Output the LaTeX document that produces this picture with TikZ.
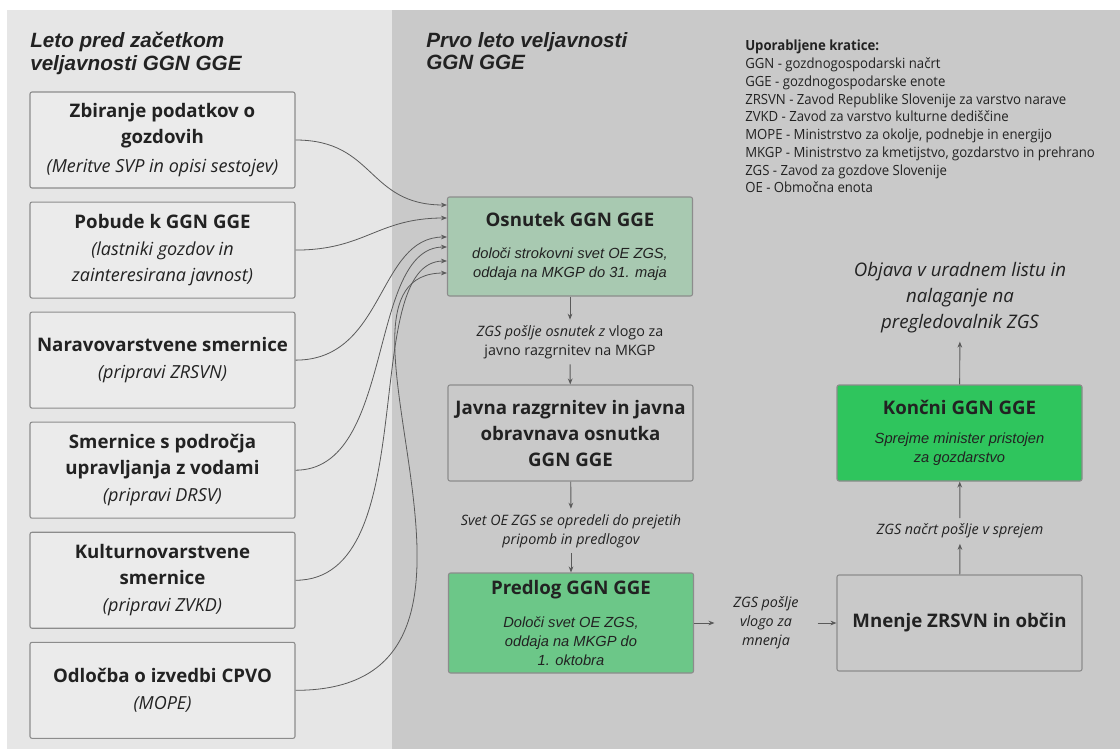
\documentclass[tikz,border=0pt]{standalone}
\usepackage{fontspec}
\setmainfont{Open Sans}
\newfontfamily\arialfont{Liberation Sans}
\newfontfamily\legendfont[FakeStretch=0.94]{Open Sans}
\usetikzlibrary{arrows.meta, positioning, calc}
\usepackage{xcolor}

\definecolor{panelleft}{HTML}{E6E6E6}
\definecolor{panelright}{HTML}{C9C9C9}
\definecolor{srcfill}{HTML}{EBEBEB}
\definecolor{boxline}{HTML}{8C8C8C}
\definecolor{draftfill}{HTML}{A8C9B1}
\definecolor{proposalfill}{HTML}{6CC788}
\definecolor{finalfill}{HTML}{2FC55D}
\definecolor{textdark}{HTML}{222222}
\definecolor{linkgray}{HTML}{5A5A5A}

\newcommand{\srcnote}[1]{{\mdseries\itshape\fontsize{13.5}{19.5}\selectfont #1}}
\newcommand{\subnote}[1]{{\arialfont\mdseries\itshape\fontsize{11}{15}\selectfont #1}}

\begin{document}
\begin{tikzpicture}[
    x=0.75pt, y=-0.75pt,
    node distance=9.75pt,
    >={Stealth[length=4.5pt,width=3.5pt]},
    base/.style={draw=boxline, rounded corners=1.5pt, line width=0.8pt, align=center, text=textdark, inner sep=3pt},
    srcbox/.style={base, fill=srcfill, minimum width=198.75pt, minimum height=72pt, font=\fontsize{14}{19.5}\selectfont\bfseries},
    stagebox/.style={base, minimum width=183.75pt, minimum height=72pt, font=\fontsize{14}{19.5}\selectfont\bfseries},
    note/.style={align=center, text=textdark, inner sep=4pt, font=\fontsize{10.75}{14.25}\selectfont\itshape},
    title/.style={anchor=north west, align=left, inner sep=0pt, text=textdark, font=\arialfont\fontsize{15.5}{17}\selectfont\bfseries\itshape},
    link/.style={->, line width=0.7pt, linkgray},
    feed/.style={->, line width=0.6pt, linkgray}
  ]
    \useasboundingbox (0,0) rectangle (1120,749);
    \fill[white] (0,0) rectangle (1120,749);
    % two periods
    \fill[panelleft] (7,10) rectangle (392,749);
    \fill[panelright] (392,10) rectangle (1120,749);

    \node[title] (leftttl) at (30,32) {Leto pred začetkom\\veljavnosti GGN GGE};
    \node[title] (rightttl) at (426,32) {Prvo leto veljavnosti\\GGN GGE};

    \node[anchor=north west, align=left, inner sep=0pt, text=textdark, font=\legendfont\fontsize{10.5}{13.3}\selectfont] (legend) at (745,40)
    {\textbf{Uporabljene kratice:}\\
     GGN - gozdnogospodarski načrt\\
     GGE - gozdnogospodarske enote\\
     ZRSVN - Zavod Republike Slovenije za varstvo narave\\
     ZVKD - Zavod za varstvo kulturne dediščine\\
     MOPE - Ministrstvo za okolje, podnebje in energijo\\
     MKGP - Ministrstvo za kmetijstvo, gozdarstvo in prehrano\\
     ZGS - Zavod za gozdove Slovenije\\
     OE - Območna enota};

    % inputs from the year before
    \node[srcbox] (gather) at (162.5,140) {Zbiranje podatkov o\\gozdovih\\[2pt]\srcnote{(Meritve SVP in opisi sestojev)}};
    \node[srcbox, below=of gather] (initiatives) {Pobude k GGN GGE\\[1pt]\srcnote{(lastniki gozdov in}\\\srcnote{zainteresirana javnost)}};
    \node[srcbox, below=of initiatives] (nature) {Naravovarstvene smernice\\[1pt]\srcnote{(pripravi ZRSVN)}};
    \node[srcbox, below=of nature] (water) {Smernice s področja\\upravljanja z vodami\\[1pt]\srcnote{(pripravi DRSV)}};
    \node[srcbox, below=of water] (culture) {Kulturnovarstvene\\smernice\\[1pt]\srcnote{(pripravi ZVKD)}};
    \node[srcbox, below=of culture] (cpvo) {Odločba o izvedbi CPVO\\[1pt]\srcnote{(MOPE)}};

    % first year
    \node[stagebox, fill=draftfill, minimum height=74.25pt] (draft) at (570,246.5)
    {Osnutek GGN GGE\\[4pt]\subnote{določi strokovni svet OE ZGS,}\\[-5pt]\subnote{oddaja na MKGP do 31. maja}};
    \node[stagebox, fill=panelright] (public) at (570.5,433)
    {Javna razgrnitev in javna\\obravnava osnutka\\GGN GGE};
    \node[stagebox, fill=proposalfill, minimum height=75pt] (proposal) at (571,623)
    {Predlog GGN GGE\\[5pt]\subnote{Določi svet OE ZGS,}\\[-5pt]\subnote{oddaja na MKGP do}\\[-5pt]\subnote{1. oktobra}};
    \node[stagebox, fill=panelright] (opinions) at (959.5,623) {Mnenje ZRSVN in občin};
    \node[stagebox, fill=finalfill] (final) at (959.5,433)
    {Končni GGN GGE\\[2pt]\subnote{Sprejme minister pristojen}\\[-5.5pt]\subnote{za gozdarstvo}};

    \node[note] (tosend) at (570,342) {ZGS pošlje osnutek z \upshape vlogo za\\\upshape javno razgrnitev na MKGP};
    \node[note] (decide) at (571,531) {Svet OE ZGS se opredeli do prejetih\\pripomb in predlogov};
    \node[note, inner xsep=14pt] (askopinion) at (766,623) {ZGS pošlje\\vlogo za\\mnenja};
    \node[note] (submit) at (960,531) {ZGS načrt pošlje v sprejem};
    \node[note, inner sep=6pt, font=\fontsize{14}{19.5}\selectfont\itshape] (publish) at (960,298)
    {Objava v uradnem listu in\\nalaganje na\\pregledovalnik ZGS};

    % inputs into the draft
    \draw[feed] (gather.east) .. controls +(80,0) and +(-80,0) .. ($(draft.west)+(0,-41.5)$);
    \draw[feed] (initiatives.east) .. controls +(70,0) and +(-70,0) .. ($(draft.west)+(0,-28.5)$);
    \draw[feed] (nature.east) .. controls +(90,0) and +(-70,0) .. ($(draft.west)+(0,-9.5)$);
    \draw[feed] (water.east) .. controls +(100,0) and +(-80,0) .. ($(draft.west)+(0,0.5)$);
    \draw[feed] (culture.east) .. controls +(130,0) and +(-90,0) .. ($(draft.west)+(0,14.5)$);
    \draw[feed] (cpvo.east) .. controls +(258,0) and +(-150,0) .. ($(draft.west)+(0,26.5)$);

    \draw[link] (draft) -- (tosend);
    \draw[link] (tosend) -- (public);
    \draw[link] (public) -- (decide);
    \draw[link] (decide) -- (proposal);
    \draw[link] (proposal) -- (askopinion);
    \draw[link] (askopinion) -- (opinions);
    \draw[link] (opinions) -- (submit);
    \draw[link] (submit) -- (final);
    \draw[link] (final) -- (publish);
  \end{tikzpicture}
\end{document}
